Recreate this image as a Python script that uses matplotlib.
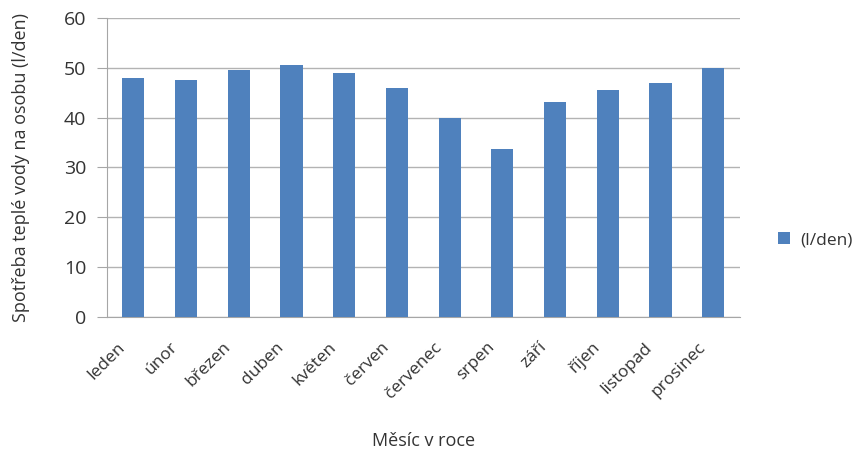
import numpy as np
import matplotlib.pyplot as plt
import matplotlib.transforms as mtransforms

plt.rcParams['font.family'] = ['Open Sans', 'DejaVu Sans']

mesice = ['leden', 'únor', 'březen', 'duben', 'květen', 'červen',
          'červenec', 'srpen', 'září', 'říjen', 'listopad', 'prosinec']
spotreba = [47.9, 47.5, 49.6, 50.6, 49.0, 46.0,
            40.0, 33.7, 43.1, 45.5, 46.9, 50.0]

fig = plt.figure(figsize=(8.59, 4.55), dpi=100)
ax = fig.add_axes([0.1246, 0.304, 0.7364, 0.656])

x = np.arange(len(mesice))
ax.bar(x, spotreba, width=0.42, color='#4f81bd', label='(l/den)', zorder=3)

ax.set_xlim(-0.5, len(mesice) - 0.5)
ax.set_ylim(0, 60)
ax.set_yticks(range(0, 61, 10))
ax.yaxis.grid(True, color='#b3b3b3', linewidth=1.0, zorder=0)
ax.tick_params(axis='y', length=7, color='#a6a6a6', labelsize=14, pad=8,
               labelcolor='#333333')
ax.tick_params(axis='x', length=0, labelsize=12.5, pad=4, labelcolor='#333333')

ax.set_xticks(x)
ax.set_xticklabels(mesice, rotation=45, ha='right', rotation_mode='anchor')
# posun popisků měsíců doleva dolů
posun = mtransforms.ScaledTranslation(-16 / 100, -17 / 100, fig.dpi_scale_trans)
for lbl in ax.get_xticklabels():
    lbl.set_transform(lbl.get_transform() + posun)

for s in ['top', 'right']:
    ax.spines[s].set_visible(False)
for s in ['left', 'bottom']:
    ax.spines[s].set_color('#a6a6a6')

ax.set_ylabel('Spotřeba teplé vody na osobu (l/den)', fontsize=13,
              color='#333333', labelpad=24)
ax.set_xlabel('Měsíc v roce', fontsize=13, color='#333333')
ax.xaxis.set_label_coords(0.5, -0.385)

ax.legend(loc='center left', bbox_to_anchor=(1.05, 0.257), frameon=False,
          fontsize=12.5, handlelength=0.7, handleheight=0.7,
          handletextpad=0.6, borderaxespad=0, labelcolor='#333333')

fig.savefig('out.png', dpi=100)
